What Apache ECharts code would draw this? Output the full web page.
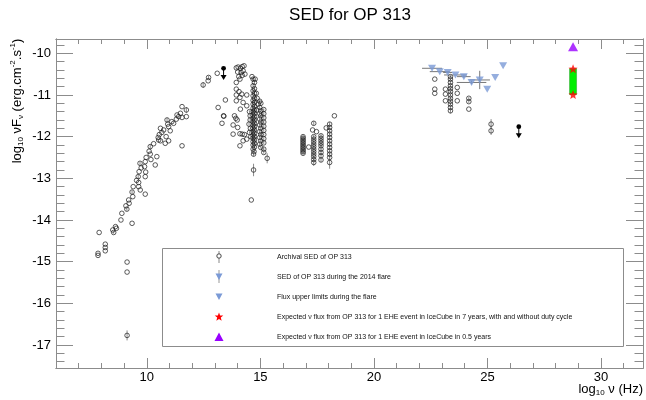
<!DOCTYPE html>
<html>
<head>
<meta charset="utf-8">
<script src="https://cdn.jsdelivr.net/npm/echarts@6/dist/echarts.min.js"></script>
<style>
  html, body { margin: 0; padding: 0; background: #fff; }
  #c { width: 646px; height: 400px; }
</style>
</head>
<body>
<div id="c"></div>
<script>
// Axis ranges and tick labels (log10 frequency / log10 flux)
const X_MIN = 6, X_MAX = 31.85;
const Y_MIN = -17.552, Y_MAX = -9.657;
const xMajorTicks = [10, 15, 20, 25, 30];
const yMajorTicks = [-17, -16, -15, -14, -13, -12, -11, -10];

// Archival SED of OP 313: [log nu, log nuFnu, error]
const archRadioIR = [
  [7.85,-14.80,0],[7.85,-14.85,0],[7.9,-14.30,0],[8.17,-14.58,0],[8.17,-14.66,0],[8.17,-14.74,0],
  [8.5,-14.24,0],[8.54,-14.30,0.03],[8.62,-14.16,0],[8.66,-14.20,0],[8.86,-14.00,0],[8.9,-13.84,0],
  [9.08,-13.66,0],[9.12,-13.74,0.04],[9.13,-15.01,0],[9.13,-15.25,0],[9.13,-16.77,0.12],[9.2,-13.52,0],
  [9.22,-13.60,0],[9.35,-13.33,0.04],[9.35,-14.08,0],[9.38,-13.44,0],[9.4,-13.20,0],[9.55,-13.05,0],
  [9.62,-12.96,0.05],[9.64,-13.10,0],[9.64,-13.20,0],[9.66,-12.84,0],[9.7,-12.64,0.04],[9.71,-13.28,0],
  [9.75,-12.75,0],[9.9,-12.72,0],[9.93,-12.96,0],[9.93,-13.38,0],[9.95,-12.85,0],[9.97,-12.50,0],
  [9.93,-12.60,0],[10.1,-12.35,0],[10.15,-12.24,0.05],[10.15,-12.42,0],[10.18,-12.55,0],[10.3,-12.17,0],
  [10.37,-12.68,0],[10.44,-12.48,0],[10.5,-12.02,0],[10.52,-12.08,0],[10.55,-11.95,0],[10.6,-12.10,0],
  [10.6,-11.80,0],[10.66,-11.90,0],[10.74,-11.84,0],[10.81,-12.16,0],[10.85,-12.00,0],[10.89,-11.60,0.05],
  [10.92,-11.70,0],[10.96,-11.76,0],[11.03,-11.86,0],[10.96,-12.10,0],[11.1,-11.64,0],[11.18,-11.68,0],
  [11.3,-11.58,0],[11.33,-11.48,0],[11.4,-11.52,0],[11.48,-11.44,0],[11.55,-11.28,0],[11.55,-11.54,0],
  [11.74,-11.36,0.07],[11.74,-11.52,0],[11.55,-12.22,0]
];
const archNearIR = [
  [12.48,-10.76,0.07],[12.7,-10.66,0],[12.72,-10.58,0.04],[13.1,-10.48,0],[13.14,-11.30,0],
  [13.46,-11.12,0],[13.31,-11.68,0],[13.38,-11.50,0],[13.39,-11.51,0]
];
const archOptUV = [
  [13.94,-10.35,0],[14.02,-10.33,0],[14.12,-10.36,0],[14.2,-10.32,0],[14.28,-10.30,0],[14.0,-10.45,0],
  [14.15,-10.46,0],[14.24,-10.42,0],[14.05,-10.56,0],[14.2,-10.53,0],[14.32,-10.50,0],[14.1,-10.62,0],
  [13.94,-10.70,0],[13.94,-10.86,0],[14.06,-10.92,0],[13.94,-11.00,0],[14.1,-11.06,0],[14.18,-10.98,0],
  [13.94,-11.14,0],[14.24,-11.18,0],[14.12,-11.34,0],[14.4,-11.00,0],[14.4,-11.26,0],
  [13.86,-11.50,0],[13.92,-11.56,0],[13.98,-11.60,0],[13.8,-11.72,0],[14.0,-11.78,0],[14.1,-11.93,0],
  [14.2,-11.94,0],[14.3,-11.95,0],[14.1,-12.22,0],[14.24,-12.10,0],[14.4,-12.06,0],[13.8,-11.94,0],
  [14.52,-11.40,0.03],[14.55,-11.50,0.03],[14.55,-11.60,0.03],[14.5,-11.70,0.03],[14.56,-11.80,0.03],
  [14.52,-11.90,0.03],[14.58,-12.00,0.03],[14.6,-13.52,0],[14.63,-10.56,0],[14.77,-10.62,0],
  [14.68,-10.62,0.04],[14.74,-10.70,0.04],[14.68,-10.78,0.04],[14.74,-10.85,0.04],[14.68,-10.90,0.04],
  [14.74,-10.96,0.04],[14.68,-11.02,0.04],[14.74,-11.08,0.04],[14.68,-11.13,0.04],[14.74,-11.18,0.04],
  [14.68,-11.22,0.04],[14.74,-11.27,0.04],[14.68,-11.32,0.04],[14.74,-11.36,0.04],[14.68,-11.40,0.04],
  [14.74,-11.44,0.04],[14.68,-11.48,0.04],[14.74,-11.52,0.04],[14.68,-11.56,0.04],[14.74,-11.60,0.04],
  [14.68,-11.64,0.04],[14.74,-11.68,0.04],[14.68,-11.72,0.04],[14.74,-11.76,0.04],[14.68,-11.80,0.04],
  [14.74,-11.84,0.04],[14.68,-11.88,0.04],[14.74,-11.92,0.04],[14.68,-11.96,0.04],[14.74,-12.00,0.04],
  [14.68,-12.04,0.04],[14.74,-12.08,0.04],[14.68,-12.12,0.04],[14.74,-12.16,0.04],[14.68,-12.20,0.04],
  [14.74,-12.25,0.04],[14.68,-12.30,0.04],[14.72,-12.36,0.04],[14.7,-12.42,0.05],[14.7,-12.80,0.15],
  [14.82,-10.96,0],[14.86,-11.08,0],[14.9,-11.22,0],[14.84,-11.36,0],
  [14.97,-11.15,0.03],[15.02,-11.20,0.03],[14.97,-11.30,0.03],[15.02,-11.38,0.03],[14.97,-11.45,0.03],
  [15.02,-11.50,0.03],[14.97,-11.58,0.03],[15.02,-11.65,0.03],[14.97,-11.72,0.03],[15.02,-11.80,0.03],
  [14.97,-11.88,0.03],[15.02,-11.95,0.03],[14.97,-12.02,0.03],[15.02,-12.10,0.03],[14.97,-12.18,0.03],
  [15.02,-12.26,0.03],
  [15.15,-11.35,0.03],[15.15,-11.45,0.03],[15.15,-11.55,0.03],[15.15,-11.65,0.03],[15.15,-11.75,0.03],
  [15.15,-11.85,0.03],[15.15,-11.95,0.03],[15.15,-12.05,0.03],[15.15,-12.15,0.03],[15.15,-12.30,0.03],
  [15.15,-12.38,0.03],[15.3,-12.52,0.12]
];
const archXray = [
  [16.88,-12.00,0.03],[16.88,-12.04,0.03],[16.88,-12.08,0.03],[16.88,-12.12,0.03],[16.88,-12.16,0.03],
  [16.88,-12.20,0.03],[16.88,-12.24,0.03],[16.88,-12.28,0.03],[16.88,-12.32,0.03],[16.88,-12.36,0.03],
  [16.88,-12.40,0.03],[17.13,-12.25,0],
  [17.35,-11.68,0.05],[17.3,-11.84,0],[17.47,-11.88,0],[17.35,-12.00,0.04],[17.35,-12.06,0.04],
  [17.35,-12.12,0.04],[17.35,-12.18,0.04],[17.35,-12.24,0.04],[17.35,-12.30,0.04],[17.35,-12.36,0.04],
  [17.35,-12.42,0.04],[17.35,-12.48,0.04],[17.35,-12.55,0.04],[17.35,-12.62,0.08],
  [17.67,-11.98,0.04],[17.67,-12.04,0.04],[17.67,-12.10,0.04],[17.67,-12.16,0.04],[17.67,-12.22,0.04],
  [17.67,-12.30,0.04],[17.67,-12.38,0.04],[17.67,-12.46,0.04],[17.67,-12.56,0.05],
  [18.05,-11.70,0.05],[18.05,-11.78,0.04],[18.05,-11.86,0.04],[18.05,-11.94,0.04],[18.05,-12.02,0.04],
  [18.05,-12.10,0.04],[18.05,-12.18,0.04],[18.05,-12.26,0.04],[18.05,-12.34,0.04],[18.05,-12.42,0.04],
  [18.05,-12.50,0.04],[18.05,-12.62,0.15],[17.9,-11.79,0],[18.26,-11.50,0]
];
const archGamma = [
  [22.68,-10.62,0],[22.68,-10.86,0],[22.68,-10.96,0],
  [23.37,-10.56,0.03],[23.37,-10.62,0.03],[23.37,-10.70,0.03],[23.37,-10.78,0.03],[23.37,-10.85,0.03],
  [23.37,-10.92,0.03],[23.37,-11.00,0.03],[23.37,-11.08,0.03],[23.37,-11.15,0.03],[23.37,-11.22,0.03],
  [23.37,-11.30,0.03],[23.37,-11.38,0.06],
  [23.15,-10.86,0],[23.15,-10.98,0],[23.15,-11.14,0],
  [23.67,-10.82,0],[23.67,-10.96,0],[23.67,-11.14,0],
  [24.18,-11.08,0.03],[24.18,-11.16,0.03],[24.18,-11.34,0],
  [25.16,-11.70,0.12],[25.16,-11.86,0.1]
];
// Archival upper limits: [log nu, log nuFnu]
const archUpperLimits = [[13.38,-10.36],[26.38,-11.76]];

// 2014 flare SED: [log nu, log nuFnu, x half-width, y error]
const flareSED = [
  [22.56,-10.36,0.44,0],[22.9,-10.44,0.44,0],[23.25,-10.46,0.2,0],[23.59,-10.52,0.5,0],
  [23.96,-10.56,0.3,0.03],[24.3,-10.70,0.65,0.04],[24.66,-10.64,0.45,0.22]
];
// Flux upper limits during the flare
const flareUL = [[24.99,-10.86],[25.34,-10.58],[25.69,-10.30]];

// Expected neutrino flux (7 years, with / without duty cycle) and 0.5 year
const nuLogE = 28.77;
const nuFlux7yr = [-10.37, -10.99];
const nuFluxHalfYr = [-9.84];

const legendLabels = [
  'Archival SED of OP 313',
  'SED of OP 313 during the 2014 flare',
  'Flux upper limits during the flare',
  'Expected \u03bd flux from OP 313 for 1 EHE event in IceCube in 7 years, with and without duty cycle',
  'Expected \u03bd flux from OP 313 for 1 EHE event in IceCube in 0.5 years'
];

const FONT = '"Liberation Sans", Arial, Helvetica, sans-serif';
const FRAME = '#8c8c8c';
const FLARE_BLUE = '#7b9ad6';
const STAR_PATH = 'path://M0,-10L2.6,-3.6L9.5,-3.1L4.2,1.4L5.9,8.1L0,4.4L-5.9,8.1L-4.2,1.4L-9.5,-3.1L-2.6,-3.6Z';

const archival = [].concat(archRadioIR, archNearIR, archOptUV, archXray, archGamma);

const xMinorTicks = [];
for (let v = 6; v <= 31; v++) xMinorTicks.push(v);
const yMinorTicks = [];
for (let k = -87; k <= -49; k++) yMinorTicks.push(+(k * 0.2).toFixed(1));

function xAxisDef(position, ticks, len, labels) {
  return {
    type: 'value', min: X_MIN, max: X_MAX, position: position,
    axisLine: { show: true, onZero: false, lineStyle: { color: FRAME, width: 1 } },
    axisTick: { show: true, inside: true, length: len, customValues: ticks, lineStyle: { color: FRAME } },
    axisLabel: labels ? { show: true, customValues: ticks, margin: 3, color: '#000', fontSize: 13, fontFamily: FONT }
                      : { show: false },
    splitLine: { show: false }
  };
}
function yAxisDef(position, ticks, len, labels) {
  return {
    type: 'value', min: Y_MIN, max: Y_MAX, position: position,
    axisLine: { show: true, onZero: false, lineStyle: { color: FRAME, width: 1 } },
    axisTick: { show: true, inside: true, length: len, customValues: ticks, lineStyle: { color: FRAME } },
    axisLabel: labels ? { show: true, customValues: ticks, margin: 5, color: '#000', fontSize: 13, fontFamily: FONT }
                      : { show: false },
    splitLine: { show: false }
  };
}

function starPoints(cx, cy, R, r) {
  const pts = [];
  for (let i = 0; i < 10; i++) {
    const a = -Math.PI / 2 + i * Math.PI / 5;
    const rr = i % 2 === 0 ? R : r;
    pts.push([cx + rr * Math.cos(a), cy + rr * Math.sin(a)]);
  }
  return pts;
}

const chart = echarts.init(document.getElementById('c'), null, { renderer: 'canvas' });

const legendX = 219, legendRows = [257, 277, 297, 317, 337];
const legendGraphics = [
  { type: 'rect', shape: { x: 162.5, y: 248.5, width: 461, height: 98 },
    style: { fill: '#fff', stroke: '#8c8c8c', lineWidth: 1 }, z: 100 },
  // archival entry
  { type: 'line', shape: { x1: legendX, y1: legendRows[0] - 6, x2: legendX, y2: legendRows[0] + 6 },
    style: { stroke: '#888', lineWidth: 1 }, z: 101 },
  { type: 'circle', shape: { cx: legendX, cy: legendRows[0] - 1, r: 2.2 },
    style: { fill: '#fff', stroke: '#333', lineWidth: 0.9 }, z: 102 },
  // flare SED entry
  { type: 'line', shape: { x1: legendX, y1: legendRows[1] - 7, x2: legendX, y2: legendRows[1] + 6 },
    style: { stroke: '#999', lineWidth: 1 }, z: 101 },
  { type: 'polygon', shape: { points: [[legendX - 3.5, legendRows[1] - 3.5], [legendX + 3.5, legendRows[1] - 3.5], [legendX, legendRows[1] + 3]] },
    style: { fill: FLARE_BLUE }, z: 102 },
  // flare upper limits entry
  { type: 'polygon', shape: { points: [[legendX - 3.5, legendRows[2] - 3.5], [legendX + 3.5, legendRows[2] - 3.5], [legendX, legendRows[2] + 3]] },
    style: { fill: FLARE_BLUE }, z: 102 },
  // 7 year neutrino entry
  { type: 'polygon', shape: { points: starPoints(legendX, legendRows[3], 4.5, 1.9) },
    style: { fill: '#ff0000' }, z: 102 },
  // 0.5 year neutrino entry
  { type: 'polygon', shape: { points: [[legendX - 4.5, legendRows[4] + 4], [legendX + 4.5, legendRows[4] + 4], [legendX, legendRows[4] - 4.5]] },
    style: { fill: '#9900ff' }, z: 102 }
];
legendLabels.forEach(function (t, i) {
  legendGraphics.push({
    type: 'text', x: 277, y: legendRows[i], z: 103,
    style: { text: t, fontSize: 7, fontFamily: FONT, fill: '#111', align: 'left', verticalAlign: 'middle' }
  });
});

const option = {
  backgroundColor: '#fff',
  animation: false,
  grid: { left: 56, right: 3, top: 39, bottom: 32, containLabel: false },
  xAxis: [
    xAxisDef('bottom', xMajorTicks, 10, true),
    xAxisDef('bottom', xMinorTicks, 5, false),
    xAxisDef('top', xMajorTicks, 10, false),
    xAxisDef('top', xMinorTicks, 5, false)
  ],
  yAxis: [
    yAxisDef('left', yMajorTicks, 17, true),
    yAxisDef('left', yMinorTicks, 8.5, false),
    yAxisDef('right', yMajorTicks, 17, false),
    yAxisDef('right', yMinorTicks, 8.5, false)
  ],
  graphic: [
    { type: 'text', x: 350, y: 15, style: { text: 'SED for OP 313', fontSize: 17, fontFamily: FONT, fill: '#000', align: 'center', verticalAlign: 'middle' } },
    { type: 'text', x: 643, y: 389, style: {
        text: '{n|log}{s|10}{n| \u03bd (Hz)}', align: 'right', verticalAlign: 'middle', fontFamily: FONT, fill: '#000',
        rich: { n: { fontSize: 13, lineHeight: 16, fontFamily: FONT, verticalAlign: 'middle' },
                s: { fontSize: 8, lineHeight: 7, fontFamily: FONT, verticalAlign: 'bottom' } } } },
    { type: 'text', x: 17, y: 101, rotation: Math.PI / 2, style: {
        text: '{n|log}{s|10}{n| \u03bdF}{s|\u03bd}{n| (erg.cm}{p|-2}{n|.s}{p|-1}{n|)}', align: 'center', verticalAlign: 'middle', fontFamily: FONT, fill: '#000',
        rich: { n: { fontSize: 13, lineHeight: 16, fontFamily: FONT, verticalAlign: 'middle' },
                s: { fontSize: 8, lineHeight: 7, fontFamily: FONT, verticalAlign: 'bottom' },
                p: { fontSize: 8, lineHeight: 8, fontFamily: FONT, verticalAlign: 'top' } } } }
  ].concat(legendGraphics),
  series: [
    {
      name: 'archival errors', type: 'custom', xAxisIndex: 0, yAxisIndex: 0, z: 2,
      data: archival.filter(function (d) { return d[2] > 0; }),
      renderItem: function (params, api) {
        const x = api.value(0), y = api.value(1), e = api.value(2);
        const a = api.coord([x, y - e]), b = api.coord([x, y + e]);
        return { type: 'line', shape: { x1: a[0], y1: a[1], x2: b[0], y2: b[1] }, style: { stroke: '#8a8a8a', lineWidth: 1 } };
      }
    },
    {
      name: 'Archival SED of OP 313', type: 'scatter', xAxisIndex: 0, yAxisIndex: 0, z: 3,
      data: archival.map(function (d) { return [d[0], d[1]]; }),
      symbol: 'circle', symbolSize: 4.6,
      itemStyle: { color: 'rgba(0,0,0,0)', borderColor: '#1c1c1c', borderWidth: 0.9 }
    },
    {
      name: 'archival upper limits', type: 'custom', xAxisIndex: 0, yAxisIndex: 0, z: 4,
      data: archUpperLimits,
      renderItem: function (params, api) {
        const x = api.value(0), y = api.value(1);
        const p = api.coord([x, y]), q = api.coord([x, y - 0.28]);
        return { type: 'group', children: [
          { type: 'line', shape: { x1: p[0], y1: p[1], x2: q[0], y2: q[1] - 4 }, style: { stroke: '#000', lineWidth: 1 } },
          { type: 'polygon', shape: { points: [[q[0] - 3, q[1] - 5], [q[0] + 3, q[1] - 5], [q[0], q[1]]] }, style: { fill: '#000' } },
          { type: 'circle', shape: { cx: p[0], cy: p[1], r: 2.4 }, style: { fill: '#000' } }
        ] };
      }
    },
    {
      name: 'flare errors', type: 'custom', xAxisIndex: 0, yAxisIndex: 0, z: 4,
      data: flareSED,
      renderItem: function (params, api) {
        const x = api.value(0), y = api.value(1), xe = api.value(2), ye = api.value(3);
        const l = api.coord([x - xe, y]), r = api.coord([x + xe, y]);
        const kids = [{ type: 'line', shape: { x1: l[0], y1: l[1], x2: r[0], y2: r[1] }, style: { stroke: '#777', lineWidth: 1 } }];
        if (ye > 0) {
          const t = api.coord([x, y + ye]), b = api.coord([x, y - ye]);
          kids.push({ type: 'line', shape: { x1: t[0], y1: t[1], x2: b[0], y2: b[1] }, style: { stroke: '#777', lineWidth: 1 } });
        }
        return { type: 'group', children: kids };
      }
    },
    {
      name: 'SED of OP 313 during the 2014 flare', type: 'scatter', xAxisIndex: 0, yAxisIndex: 0, z: 5,
      data: flareSED.map(function (d) { return [d[0], d[1]]; }),
      symbol: 'triangle', symbolRotate: 180, symbolSize: [8, 7],
      itemStyle: { color: FLARE_BLUE }
    },
    {
      name: 'Flux upper limits during the flare', type: 'scatter', xAxisIndex: 0, yAxisIndex: 0, z: 5,
      data: flareUL,
      symbol: 'triangle', symbolRotate: 180, symbolSize: [8, 7],
      itemStyle: { color: FLARE_BLUE }
    },
    {
      name: 'neutrino range', type: 'custom', xAxisIndex: 0, yAxisIndex: 0, z: 5,
      data: [[nuLogE, nuFlux7yr[0], nuFlux7yr[1]]],
      renderItem: function (params, api) {
        const a = api.coord([api.value(0), api.value(1)]), b = api.coord([api.value(0), api.value(2)]);
        return { type: 'rect', shape: { x: a[0] - 3.5, y: a[1], width: 7, height: b[1] - a[1] },
                 style: { fill: '#00ee00', stroke: '#33aa33', lineWidth: 0.6 } };
      }
    },
    {
      name: 'Expected nu flux 7 years', type: 'scatter', xAxisIndex: 0, yAxisIndex: 0, z: 6,
      data: nuFlux7yr.map(function (v) { return [nuLogE, v]; }),
      symbol: STAR_PATH, symbolSize: 9, itemStyle: { color: '#ff0000' }
    },
    {
      name: 'Expected nu flux 0.5 years', type: 'scatter', xAxisIndex: 0, yAxisIndex: 0, z: 6,
      data: nuFluxHalfYr.map(function (v) { return [nuLogE, v]; }),
      symbol: 'triangle', symbolSize: [10, 9], itemStyle: { color: '#9900ff' }
    }
  ]
};

chart.setOption(option);
</script>
</body>
</html>
